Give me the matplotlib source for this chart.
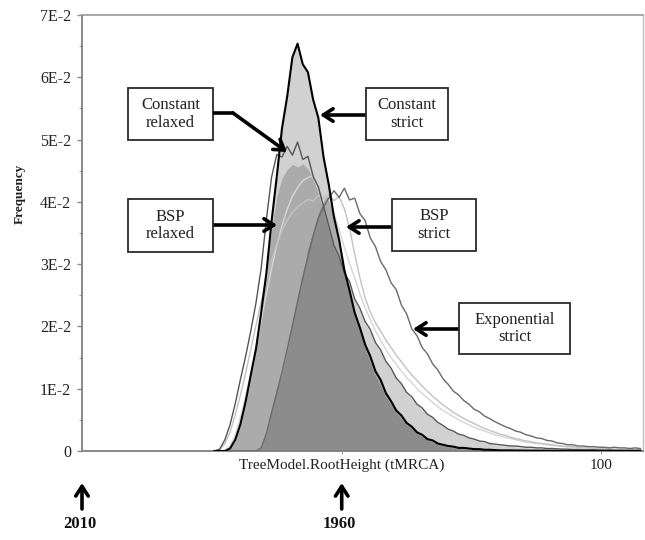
import numpy as np
import matplotlib
matplotlib.use('Agg')
import matplotlib.pyplot as plt
from matplotlib.patches import Rectangle
from matplotlib.lines import Line2D

plt.rcParams['font.family'] = ['Liberation Serif', 'DejaVu Serif']

# ---------------- data (frequency in units of 1E-3, one value per histogram bin) -------------
root_height = np.arange(25, 108) + 0.5          # bin centres, TreeModel.RootHeight (years before 2010)
freq_unit = 1e-3

constant_strict = [0, 0, 0, 0.4, 1.8, 4.3, 7.9, 12.2, 16.4, 22.3, 28.6, 36.9, 44.1, 51.8, 56.9, 63.2,
                   65.4, 62.1, 60.8, 56.4, 53.5, 47.2, 42.8, 37.6, 33.9, 29.1, 25.8, 22.2, 19.8, 17.1,
                   15.2, 12.8, 11.4, 9.3, 8.0, 6.5, 5.7, 4.5, 3.9, 3.0, 2.6, 1.9, 1.7, 1.2, 1.0, 0.8,
                   0.7, 0.5, 0.5, 0.4, 0.3, 0.3, 0.2, 0.2, 0.15, 0.1,
                   0.1, 0.1, 0.08, 0.08, 0.06, 0.06, 0.05, 0.05, 0.04, 0.04, 0.03, 0.03, 0.03, 0.02,
                   0.02, 0.02, 0.02, 0.02, 0.01, 0.01, 0.01, 0.01, 0.01, 0.01, 0.01, 0.01, 0.01]

constant_relaxed = [0, 0.3, 1.8, 4.2, 7.6, 11.5, 15.2, 19.3, 23.8, 29.4, 37.2, 44.0, 47.6, 47.2, 48.9,
                    47.5, 49.6, 46.8, 47.3, 44.1, 42.4, 39.3, 36.2, 33.0, 31.2, 28.6, 27.2, 24.4, 22.9,
                    20.8, 19.5, 17.4, 16.2, 14.4, 13.3, 11.7, 10.8, 9.4, 8.7, 7.5, 6.9, 5.9, 5.4, 4.6,
                    4.1, 3.5, 3.2, 2.7, 2.5, 2.1, 1.9, 1.6, 1.5, 1.2, 1.1, 1.0,
                    0.9, 0.8, 0.8, 0.7, 0.6, 0.6, 0.5, 0.5, 0.4, 0.4, 0.35, 0.3, 0.3, 0.25, 0.25, 0.2,
                    0.2, 0.2, 0.15, 0.15, 0.15, 0.1, 0.1, 0.1, 0.1, 0.1, 0.1]

bsp_relaxed = [0, 0, 0, 0.3, 1.5, 3.9, 7.3, 11.5, 15.8, 21.5, 27.8, 35.6, 40.9, 43.8, 45.2, 46.0,
               45.6, 46.1, 45.3, 43.6, 41.4, 38.6, 35.4, 32.5, 30.6, 28.2, 26.6, 24.1, 22.5, 20.5,
               19.1, 17.1, 15.9, 14.2, 13.0, 11.5, 10.6, 9.2, 8.5, 7.4, 6.7, 5.8, 5.3, 4.5, 4.0,
               3.4, 3.1, 2.6, 2.4, 2.0, 1.8, 1.5, 1.4, 1.2, 1.0, 0.9,
               0.8, 0.8, 0.7, 0.6, 0.6, 0.5, 0.5, 0.4, 0.4, 0.35, 0.3, 0.3, 0.25, 0.25, 0.2, 0.2,
               0.2, 0.15, 0.15, 0.15, 0.1, 0.1, 0.1, 0.1, 0.1, 0.1, 0.1]

dark_shaded = [0, 0, 0, 0, 0, 0, 0, 0, 0, 0.5, 2.8, 6.4, 9.6, 12.3, 16.1, 20.4, 24.3, 28.2, 32.6,
               35.1, 38.2, 40.1, 41.6, 37.2, 32.9, 28.6, 25.1, 21.6, 19.0, 16.4, 14.2, 12.0, 10.5,
               8.7, 7.4, 6.1, 5.2, 4.2, 3.6, 2.8, 2.3, 1.7, 1.4, 1.0, 0.8, 0.6, 0.5, 0.4, 0.3,
               0.25, 0.2,
               0.15, 0.15, 0.1, 0.1, 0.1, 0.08, 0.08, 0.06, 0.06, 0.05, 0.05, 0.04, 0.04, 0.03,
               0.03, 0.03, 0.02, 0.02, 0.02, 0.02, 0.01, 0.01, 0.01, 0.01, 0.01, 0.01, 0.01, 0.01,
               0.01, 0.01, 0.01, 0.01]

exponential_strict = [0, 0, 0, 0, 0, 0, 0, 0, 0, 0.5, 2.8, 6.2, 9.4, 12.6, 16.3, 20.1, 24.0, 27.8,
                      31.2, 34.6, 37.4, 39.2, 40.6, 41.8, 40.7, 42.2, 40.3, 40.6, 38.1, 37.0, 34.2,
                      32.8, 30.4, 29.1, 27.0, 25.9, 23.4, 22.0, 19.6, 18.5, 16.6, 15.6, 14.0, 13.0,
                      11.6, 10.7, 9.6, 9.0, 8.1, 7.5, 6.7, 6.3, 5.6, 5.2, 4.7, 4.3, 3.9, 3.6, 3.2,
                      3.0, 2.6, 2.4, 2.1, 2.0, 1.7, 1.6, 1.3, 1.2, 1.0, 1.0, 0.8, 0.8, 0.7, 0.7,
                      0.6, 0.6, 0.5, 0.6, 0.5, 0.5, 0.4, 0.5, 0.4]

bsp_strict = [0, 0.2, 1.2, 3.0, 5.8, 9.0, 12.5, 16.3, 20.2, 24.0, 27.5, 30.6, 33.2, 35.4, 37.0,
              38.3, 39.2, 39.8, 40.4, 40.1, 41.0, 40.6, 41.3, 40.2, 40.8, 38.9, 35.8, 31.6, 27.8,
              24.6, 22.3, 20.6, 19.2, 17.8, 16.6, 15.4, 14.3, 13.2, 12.2, 11.3, 10.4, 9.6, 8.8,
              8.1, 7.4, 6.8, 6.2, 5.7, 5.2, 4.8, 4.4, 4.0, 3.6, 3.3, 3.0, 2.7, 2.5, 2.2, 2.0, 1.8,
              1.6, 1.5, 1.3, 1.2, 1.1, 1.0,
              0.9, 0.8, 0.7, 0.7, 0.6, 0.5, 0.5, 0.4, 0.4, 0.35, 0.3, 0.3, 0.25, 0.25, 0.2, 0.2, 0.2]

light_trace = [0, 0, 0, 0.8, 2.6, 5.4, 8.8, 12.6, 16.8, 21.0, 25.2, 29.3, 33.0, 36.2, 38.8, 40.9,
               42.3, 43.4, 43.9, 44.2, 43.6, 42.5, 40.6, 38.2, 35.5, 32.7, 30.1, 27.8, 25.2, 23.0,
               21.1, 19.3, 17.8, 16.3, 15.0, 13.9, 12.8, 11.8, 10.9, 10.0, 9.2, 8.5, 7.8, 7.1, 6.5,
               6.0, 5.5, 5.0, 4.6, 4.2, 3.8, 3.5, 3.2, 2.9, 2.6, 2.4, 2.2, 2.0, 1.8, 1.6, 1.4, 1.3,
               1.2, 1.1, 1.0, 0.9,
               0.8, 0.7, 0.7, 0.6, 0.5, 0.5, 0.4, 0.4, 0.35, 0.3, 0.3, 0.25, 0.25, 0.2, 0.2, 0.2, 0.15]

y_ticks = [0, 0.01, 0.02, 0.03, 0.04, 0.05, 0.06, 0.07]
y_tick_labels = ['0', '1E-2', '2E-2', '3E-2', '4E-2', '5E-2', '6E-2', '7E-2']
x_ticks = [50, 100]
x_tick_labels = ['TreeModel.RootHeight (tMRCA)', '100']
year_marks = [(0, '2010'), (50, '1960')]

series = {
    'constant_strict': constant_strict, 'constant_relaxed': constant_relaxed,
    'bsp_relaxed': bsp_relaxed, 'dark_shaded': dark_shaded,
    'exponential_strict': exponential_strict, 'bsp_strict': bsp_strict,
    'light_trace': light_trace,
}
for k, v in series.items():
    assert len(v) == len(root_height), (k, len(v))
Y = {k: np.array(v) * freq_unit for k, v in series.items()}

# ---------------- layout helpers (pixel -> figure fraction) ----------------
W, H = 645, 540
fig = plt.figure(figsize=(W / 100, H / 100), dpi=100)
def fx(px): return px / W
def fy(py): return 1 - py / H

ax = fig.add_axes([fx(82), fy(451), 561 / W, 436 / H])
ax.set_xlim(0, 108)
ax.set_ylim(0, 0.07)

# translucent fills: overlaps build up the grey levels
for key in ('constant_strict', 'bsp_relaxed', 'dark_shaded'):
    ax.fill_between(root_height, 0, Y[key], color='black', alpha=0.18, lw=0, zorder=1)

ax.plot(root_height, Y['light_trace'], color='#d6d6d6', lw=1.0, zorder=2)
ax.plot(root_height, Y['bsp_strict'], color='#c2c2c2', lw=1.0, zorder=2)
ax.plot(root_height, Y['exponential_strict'], color='#6a6a6a', lw=1.0, zorder=3)
ax.plot(root_height, Y['constant_relaxed'], color='#555555', lw=1.0, zorder=4)
ax.plot(root_height, Y['constant_strict'], color='black', lw=1.5, zorder=5)

# axes styling
ax.set_yticks(y_ticks)
ax.set_yticklabels(y_tick_labels)
ax.set_yticks(np.arange(0.005, 0.07, 0.01), minor=True)
ax.set_xticks(x_ticks)
ax.set_xticklabels(x_tick_labels)
ax.tick_params(axis='y', which='major', length=3.5, width=1, color='#888888', pad=4.5,
               labelsize=11.5, labelcolor='#222222')
ax.tick_params(axis='y', which='minor', length=2, width=0.8, color='#999999')
ax.tick_params(axis='x', which='major', length=2.5, width=0.8, color='#999999', pad=3,
               labelsize=11, labelcolor='#222222')
for side, col, lw in (('left', '#808080', 1.3), ('bottom', '#808080', 1.3),
                      ('top', '#9a9a9a', 1.2), ('right', '#c0c0c0', 1.0)):
    ax.spines[side].set_color(col)
    ax.spines[side].set_linewidth(lw)

fig.text(fx(20), fy(194), 'Frequency', rotation=90, ha='center', va='center',
         fontsize=9.5, fontweight='bold', color='#222222')

# ---------------- label boxes and arrows ----------------
boxes = [("Constant\nrelaxed", 128, 88, 213, 140),
         ("BSP\nrelaxed", 128, 199, 213, 252),
         ("Constant\nstrict", 366, 88, 448, 140),
         ("BSP\nstrict", 392, 199, 476, 251),
         ("Exponential\nstrict", 459, 303, 570, 354)]
for label, x0, y0, x1, y1 in boxes:
    fig.add_artist(Rectangle((fx(x0), fy(y1)), (x1 - x0) / W, (y1 - y0) / H,
                             transform=fig.transFigure, facecolor='white',
                             edgecolor='#2a2a2a', lw=1.3, zorder=6))
    fig.text(fx((x0 + x1) / 2), fy((y0 + y1) / 2), label, ha='center', va='center',
             fontsize=12, linespacing=1.15, color='#222222', zorder=7)

arrow_props = dict(arrowstyle='->,head_length=0.7,head_width=0.45', lw=2.6,
                   color='black', shrinkA=0, shrinkB=0)
arrows = [((233, 113), (287, 152)),
          ((213, 225), (277, 225)),
          ((366, 115), (320, 115)),
          ((392, 227), (346, 227)),
          ((459, 329), (413, 329))]
fig.add_artist(Line2D([fx(213), fx(234)], [fy(113), fy(113)], transform=fig.transFigure,
                      color='black', lw=2.6, zorder=8, solid_capstyle='butt'))
for (sx, sy), (tx, ty) in arrows:
    ann = ax.annotate('', xy=(fx(tx), fy(ty)), xycoords='figure fraction',
                      xytext=(fx(sx), fy(sy)), textcoords='figure fraction',
                      arrowprops=arrow_props, annotation_clip=False)
    ann.set_zorder(8)

# year markers below the axis
for xval, year in year_marks:
    px = 82 + xval * 561 / 108
    ax.annotate('', xy=(fx(px), fy(483)), xycoords='figure fraction',
                xytext=(fx(px), fy(509)), textcoords='figure fraction',
                arrowprops=arrow_props, annotation_clip=False)
    fig.text(fx(px - 2), fy(524), year, ha='center', va='center', fontsize=12,
             fontweight='bold', color='#111111')

fig.savefig('out.png', dpi=100)
